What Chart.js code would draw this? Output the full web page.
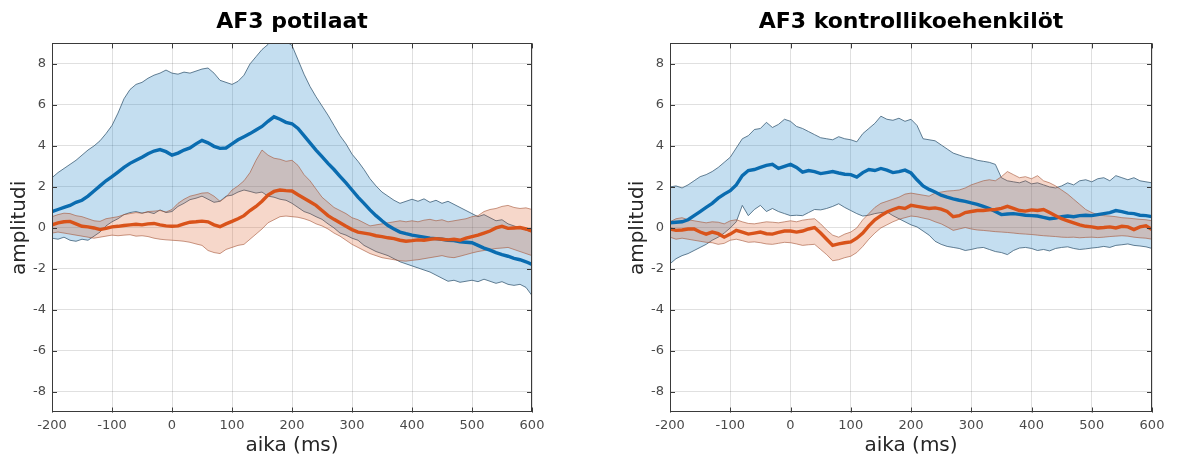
<!DOCTYPE html>
<html>
<head>
<meta charset="utf-8">
<script src="https://cdn.jsdelivr.net/npm/chart.js@4.4.1/dist/chart.umd.min.js"></script>
<style>
  html, body { margin: 0; padding: 0; background: #fff; }
  #wrap { position: relative; width: 1182px; height: 459px; overflow: hidden; }
  canvas { position: absolute; top: 0; }
  #left { left: 0; }
  #right { left: 618px; }
</style>
</head>
<body>
<div id="wrap">
  <canvas id="left" width="560" height="459"></canvas>
  <canvas id="right" width="562" height="459"></canvas>
</div>
<script>
// sample times (ms)
const times = [
  -200, -190, -180, -170, -160, -150, -140, -130, -120, -110,
  -100, -90, -80, -70, -60, -50, -40, -30, -20, -10,
  0, 10, 20, 30, 40, 50, 60, 70, 80, 90,
  100, 110, 120, 130, 140, 150, 160, 170, 180, 190,
  200, 210, 220, 230, 240, 250, 260, 270, 280, 290,
  300, 310, 320, 330, 340, 350, 360, 370, 380, 390,
  400, 410, 420, 430, 440, 450, 460, 470, 480, 490,
  500, 510, 520, 530, 540, 550, 560, 570, 580, 590,
  600
];
const xTicks = [-200, -100, 0, 100, 200, 300, 400, 500, 600];
const yTicks = [-8, -6, -4, -2, 0, 2, 4, 6, 8];

// AF3 potilaat
const patBlueMean = [
  0.8, 0.9, 1.0, 1.1, 1.25, 1.35, 1.55, 1.8, 2.05, 2.3,
  2.5, 2.72, 2.95, 3.15, 3.3, 3.45, 3.62, 3.75, 3.82, 3.72,
  3.55, 3.65, 3.8, 3.9, 4.1, 4.27, 4.15, 3.98, 3.88, 3.9,
  4.1, 4.3, 4.45, 4.6, 4.78, 4.95, 5.2, 5.42, 5.3, 5.15,
  5.08, 4.85, 4.5, 4.15, 3.8, 3.48, 3.15, 2.85, 2.52, 2.2,
  1.85, 1.5, 1.2, 0.88, 0.6, 0.35, 0.12, -0.05, -0.2, -0.28,
  -0.35, -0.4, -0.45, -0.5, -0.52, -0.55, -0.6, -0.62, -0.68, -0.7,
  -0.72, -0.85, -0.98, -1.08, -1.2, -1.3, -1.38, -1.48, -1.55, -1.65,
  -1.78
];
const patBlueUpper = [
  2.45, 2.7, 2.9, 3.1, 3.3, 3.55, 3.8, 4.0, 4.25, 4.6,
  5.0, 5.6, 6.3, 6.75, 7.0, 7.1, 7.3, 7.45, 7.55, 7.7,
  7.55, 7.5, 7.6, 7.55, 7.65, 7.75, 7.8, 7.55, 7.2, 7.1,
  7.0, 7.15, 7.45, 8.0, 8.35, 8.7, 8.95, 9.3, 9.4, 9.1,
  8.9, 8.2, 7.5, 6.9, 6.4, 5.95, 5.5, 5.0, 4.5, 4.1,
  3.6, 3.25, 2.85, 2.4, 2.05, 1.75, 1.55, 1.35, 1.2, 1.3,
  1.4, 1.3, 1.42, 1.25, 1.35, 1.2, 1.3, 1.15, 1.0, 0.85,
  0.7, 0.55, 0.65, 0.5, 0.35, 0.4, 0.2, 0.1, 0.0, -0.1,
  -0.2
];
const patBlueLower = [
  -0.5, -0.55, -0.45, -0.6, -0.65, -0.55, -0.6, -0.4, -0.2, 0.1,
  0.3, 0.45, 0.65, 0.75, 0.8, 0.72, 0.78, 0.7, 0.88, 0.75,
  0.8, 1.05, 1.2, 1.38, 1.45, 1.55, 1.4, 1.25, 1.3, 1.55,
  1.6, 1.75, 1.85, 1.78, 1.7, 1.75, 1.55, 1.5, 1.4, 1.35,
  1.2, 1.0, 0.8, 0.7, 0.55, 0.42, 0.2, 0.0, -0.25, -0.35,
  -0.5, -0.6, -0.85, -1.0, -1.15, -1.25, -1.35, -1.5, -1.65, -1.75,
  -1.85, -1.95, -2.05, -2.15, -2.3, -2.45, -2.6, -2.55, -2.65, -2.6,
  -2.55, -2.62, -2.5, -2.6, -2.7, -2.62, -2.75, -2.8, -2.75, -2.9,
  -3.3
];
const patOrangeMean = [
  0.15, 0.25, 0.3, 0.32, 0.2, 0.08, 0.05, 0.0, -0.08, -0.02,
  0.05, 0.08, 0.12, 0.15, 0.18, 0.15, 0.2, 0.22, 0.15, 0.1,
  0.08, 0.1, 0.2, 0.28, 0.3, 0.33, 0.3, 0.15, 0.06, 0.2,
  0.32, 0.45, 0.6, 0.85, 1.05, 1.3, 1.6, 1.78, 1.85, 1.82,
  1.8, 1.62, 1.45, 1.28, 1.1, 0.85, 0.6, 0.42, 0.25, 0.08,
  -0.08, -0.2, -0.25, -0.3, -0.38, -0.42, -0.48, -0.52, -0.6, -0.65,
  -0.62, -0.58, -0.6, -0.55, -0.52, -0.55, -0.58, -0.55, -0.6, -0.5,
  -0.42, -0.35, -0.25, -0.15, 0.0, 0.08, -0.02, 0.0, 0.02, -0.05,
  -0.15
];
const patOrangeUpper = [
  0.55, 0.65, 0.72, 0.7, 0.6, 0.55, 0.45, 0.35, 0.32, 0.45,
  0.5, 0.55, 0.65, 0.7, 0.75, 0.72, 0.8, 0.82, 0.85, 0.78,
  0.9, 1.2, 1.4, 1.55, 1.62, 1.7, 1.72, 1.55, 1.3, 1.5,
  1.85, 2.05, 2.3, 2.7, 3.3, 3.8, 3.55, 3.4, 3.35, 3.25,
  3.3, 3.05, 2.6, 2.3, 1.9, 1.5, 1.25, 1.0, 0.85, 0.7,
  0.5, 0.4, 0.25, 0.1, 0.15, 0.2, 0.25, 0.3, 0.35, 0.3,
  0.35, 0.3, 0.38, 0.42, 0.35, 0.4, 0.3, 0.35, 0.4, 0.45,
  0.55, 0.6, 0.8, 0.9, 0.95, 1.05, 1.1, 1.0, 0.95, 0.98,
  0.9
];
const patOrangeLower = [
  -0.25, -0.2, -0.25, -0.3, -0.35, -0.4, -0.45, -0.5, -0.45, -0.4,
  -0.35, -0.38, -0.35, -0.33, -0.4, -0.38, -0.42, -0.5, -0.55, -0.58,
  -0.6, -0.62, -0.65, -0.7, -0.78, -0.85, -1.1, -1.2, -1.25, -1.05,
  -0.95, -0.85, -0.8, -0.55, -0.3, -0.05, 0.25, 0.4, 0.55, 0.58,
  0.55, 0.52, 0.45, 0.35, 0.2, 0.1, -0.05, -0.25, -0.4, -0.6,
  -0.8, -0.95, -1.1, -1.25, -1.35, -1.45, -1.5, -1.55, -1.6, -1.62,
  -1.58, -1.55, -1.5, -1.45, -1.4, -1.35, -1.42, -1.45, -1.38, -1.3,
  -1.22, -1.15, -1.1, -1.05, -1.0, -0.98, -0.95, -1.05, -1.15, -1.25,
  -1.35
];

// AF3 kontrollikoehenkilöt
const ctlBlueMean = [
  0.25, 0.28, 0.3, 0.4, 0.6, 0.8, 1.0, 1.2, 1.45, 1.65,
  1.82, 2.1, 2.55, 2.8, 2.85, 2.95, 3.05, 3.1, 2.9, 3.0,
  3.1, 2.95, 2.72, 2.8, 2.75, 2.65, 2.7, 2.75, 2.68, 2.62,
  2.6, 2.48, 2.7, 2.85, 2.8, 2.9, 2.82, 2.7, 2.75, 2.82,
  2.68, 2.35, 2.05, 1.88, 1.75, 1.6, 1.5, 1.42, 1.35, 1.3,
  1.22, 1.15, 1.05, 0.95, 0.8, 0.65, 0.68, 0.7, 0.66, 0.62,
  0.6, 0.58, 0.52, 0.45, 0.48, 0.55, 0.58, 0.55, 0.6, 0.62,
  0.6, 0.65, 0.7, 0.75, 0.85, 0.8, 0.72, 0.7, 0.62, 0.6,
  0.55
];
const ctlBlueUpper = [
  2.0, 2.05, 1.95, 2.1, 2.3, 2.5, 2.6, 2.75, 2.95, 3.2,
  3.45, 3.9, 4.35, 4.5, 4.8, 4.85, 5.15, 4.9, 5.05, 5.3,
  5.2, 4.95, 4.85, 4.7, 4.55, 4.4, 4.35, 4.3, 4.45, 4.35,
  4.3, 4.2, 4.6, 4.85, 5.1, 5.45, 5.3, 5.25, 5.35, 5.2,
  5.3, 5.0, 4.35, 4.3, 4.25, 4.05, 3.85, 3.65, 3.55, 3.45,
  3.4, 3.3, 3.25, 3.2, 3.1, 2.45, 2.3, 2.25, 2.2, 2.3,
  2.15, 2.2, 2.1, 2.0, 1.95, 2.05, 2.2, 2.1, 2.3, 2.35,
  2.25, 2.4, 2.45, 2.3, 2.55, 2.45, 2.35, 2.45, 2.3, 2.25,
  2.2
];
const ctlBlueLower = [
  -1.75, -1.5, -1.35, -1.25, -1.1, -0.95, -0.8, -0.6, -0.45, -0.25,
  0.0, 0.3, 1.1, 0.6, 0.9, 1.1, 0.8, 0.95, 0.8, 0.7,
  0.6, 0.62, 0.6, 0.75, 0.9, 0.88, 0.95, 1.05, 1.18, 1.0,
  0.85, 0.7, 0.58, 0.62, 0.7, 0.75, 0.78, 0.6, 0.45, 0.3,
  0.15, 0.05, -0.15, -0.35, -0.65, -0.8, -0.9, -0.95, -1.0, -1.1,
  -1.05, -0.98, -0.95, -1.05, -1.15, -1.2, -1.3, -1.1, -0.98, -0.95,
  -1.0, -1.1, -1.05, -1.12, -1.0, -0.95, -0.92, -1.0, -1.05, -1.02,
  -0.98, -0.95, -0.9, -0.95, -0.85, -0.82, -0.78, -0.85, -0.88, -0.92,
  -1.0
];
const ctlOrangeMean = [
  -0.05, -0.12, -0.1, -0.05, -0.05, -0.2, -0.3, -0.2, -0.28, -0.45,
  -0.3, -0.12, -0.2, -0.3, -0.25, -0.2, -0.28, -0.3, -0.22, -0.15,
  -0.15, -0.2, -0.15, -0.05, 0.02, -0.25, -0.55, -0.85, -0.78, -0.72,
  -0.68, -0.5, -0.25, 0.1, 0.4, 0.6, 0.78, 0.9, 1.0, 0.95,
  1.1, 1.05, 1.0, 0.95, 0.98, 0.92, 0.8, 0.55, 0.6, 0.75,
  0.8, 0.85, 0.85, 0.88, 0.9, 0.95, 1.05, 0.95, 0.85, 0.82,
  0.88, 0.85, 0.9, 0.75, 0.6, 0.45, 0.35, 0.25, 0.15, 0.08,
  0.05, 0.0, 0.02, 0.05, 0.0, 0.08, 0.05, -0.08, 0.05, 0.1,
  -0.08
];
const ctlOrangeUpper = [
  0.3, 0.45, 0.5, 0.4, 0.35, 0.3, 0.25, 0.3, 0.28, 0.2,
  0.35, 0.4, 0.3, 0.22, 0.2, 0.25, 0.3, 0.28, 0.25, 0.3,
  0.35, 0.3, 0.38, 0.42, 0.45, 0.2, -0.1, -0.35, -0.45, -0.3,
  -0.2, 0.0, 0.4, 0.7, 1.0, 1.2, 1.3, 1.4, 1.5, 1.65,
  1.7, 1.65, 1.6, 1.55, 1.7, 1.75, 1.8, 1.82, 1.85, 1.95,
  2.1, 2.2, 2.3, 2.35, 2.3, 2.5, 2.75, 2.6, 2.45, 2.5,
  2.4, 2.55, 2.3, 2.2, 2.05, 1.85, 1.65, 1.4, 1.15, 0.9,
  0.75, 0.65, 0.6, 0.58, 0.55, 0.5, 0.48, 0.45, 0.42, 0.4,
  0.35
];
const ctlOrangeLower = [
  -0.45, -0.55, -0.5, -0.55, -0.6, -0.65, -0.7, -0.72, -0.8, -0.75,
  -0.6, -0.55, -0.62, -0.7, -0.68, -0.72, -0.78, -0.8, -0.75, -0.7,
  -0.72, -0.78, -0.85, -0.82, -0.8, -1.05, -1.3, -1.6, -1.55, -1.45,
  -1.38, -1.2, -0.9, -0.55, -0.25, 0.0, 0.15, 0.3, 0.42, 0.5,
  0.58, 0.55, 0.48, 0.42, 0.3, 0.2, 0.05, -0.12, -0.05, 0.02,
  -0.05, -0.1, -0.12, -0.15, -0.18, -0.2, -0.22, -0.25, -0.28, -0.3,
  -0.32, -0.35, -0.38, -0.4, -0.42, -0.45, -0.46, -0.45, -0.48, -0.46,
  -0.45, -0.47, -0.45, -0.42, -0.4, -0.38, -0.4, -0.45, -0.48, -0.5,
  -0.55
];

const BLUE = '#0a6cb0';
const ORANGE = '#d9531a';
const BLUE_FILL = 'rgba(0, 114, 189, 0.23)';
const ORANGE_FILL = 'rgba(217, 83, 25, 0.23)';
const BLUE_EDGE = 'rgba(60, 95, 120, 0.8)';
const ORANGE_EDGE = 'rgba(165, 85, 55, 0.6)';
const FONT = "'DejaVu Sans', sans-serif";

const toXY = arr => arr.map((v, i) => ({ x: times[i], y: v }));

// box around the axes with inward ticks, like matlab
const matlabBox = {
  id: 'matlabBox',
  afterDraw(chart) {
    const { ctx, chartArea: a, scales: { x, y } } = chart;
    ctx.save();
    ctx.strokeStyle = '#3a3a3a';
    ctx.lineWidth = 1;
    ctx.strokeRect(Math.round(a.left) + 0.5, Math.round(a.top) + 0.5,
      Math.round(a.width) - 1, Math.round(a.height) - 1);
    ctx.beginPath();
    xTicks.forEach(v => {
      const px = Math.round(x.getPixelForValue(v)) + 0.5;
      ctx.moveTo(px, a.bottom); ctx.lineTo(px, a.bottom - 5);
      ctx.moveTo(px, a.top); ctx.lineTo(px, a.top + 5);
    });
    yTicks.forEach(v => {
      const py = Math.round(y.getPixelForValue(v)) + 0.5;
      ctx.moveTo(a.left, py); ctx.lineTo(a.left + 5, py);
      ctx.moveTo(a.right, py); ctx.lineTo(a.right - 5, py);
    });
    ctx.stroke();
    ctx.restore();
  }
};

function makeChart(id, title, s, padRight) {
  const line = (data, color, width, extra) => Object.assign({
    data: toXY(data),
    borderColor: color,
    borderWidth: width,
    pointRadius: 0,
    tension: 0,
    fill: false
  }, extra);

  new Chart(document.getElementById(id), {
    type: 'line',
    data: {
      datasets: [
        line(s.blueUpper, BLUE_EDGE, 1, { fill: '+1', backgroundColor: BLUE_FILL, order: 5 }),
        line(s.blueLower, BLUE_EDGE, 1, { order: 4 }),
        line(s.orangeUpper, ORANGE_EDGE, 1, { fill: '+1', backgroundColor: ORANGE_FILL, order: 3 }),
        line(s.orangeLower, ORANGE_EDGE, 1, { order: 2 }),
        line(s.blueMean, BLUE, 3.4, { order: 1 }),
        line(s.orangeMean, ORANGE, 3.4, { order: 0 })
      ]
    },
    options: {
      responsive: false,
      animation: false,
      layout: { padding: { left: 0, right: padRight, top: 0, bottom: 0 } },
      plugins: {
        legend: { display: false },
        tooltip: { enabled: false },
        title: {
          display: true,
          text: title,
          fullSize: false,
          color: '#000',
          font: { family: FONT, size: 22, weight: 'bold' },
          padding: { top: 9, bottom: 8 }
        }
      },
      scales: {
        x: {
          type: 'linear',
          min: -200,
          max: 600,
          afterBuildTicks: sc => { sc.ticks = xTicks.map(v => ({ value: v })); },
          afterFit: sc => { sc.height = 46.5; },
          grid: { color: 'rgba(0,0,0,0.12)', drawTicks: false },
          border: { display: false },
          ticks: { color: '#4a4a4a', font: { family: FONT, size: 13 }, padding: 5, maxRotation: 0 },
          title: {
            display: true,
            text: 'aika (ms)',
            color: '#262626',
            font: { family: FONT, size: 20 },
            padding: { top: 0, bottom: 1 }
          }
        },
        y: {
          min: -9,
          max: 9,
          afterBuildTicks: sc => { sc.ticks = yTicks.map(v => ({ value: v })); },
          afterFit: sc => { sc.width = 52; },
          grid: { color: 'rgba(0,0,0,0.12)', drawTicks: false },
          border: { display: false },
          ticks: { color: '#4a4a4a', font: { family: FONT, size: 13 }, padding: 6 },
          title: {
            display: true,
            text: 'amplitudi',
            color: '#262626',
            font: { family: FONT, size: 20 },
            padding: { top: 8, bottom: 0 }
          }
        }
      }
    },
    plugins: [matlabBox]
  });
}

makeChart('left', 'AF3 potilaat', {
  blueMean: patBlueMean, blueUpper: patBlueUpper, blueLower: patBlueLower,
  orangeMean: patOrangeMean, orangeUpper: patOrangeUpper, orangeLower: patOrangeLower
}, 28);

makeChart('right', 'AF3 kontrollikoehenkilöt', {
  blueMean: ctlBlueMean, blueUpper: ctlBlueUpper, blueLower: ctlBlueLower,
  orangeMean: ctlOrangeMean, orangeUpper: ctlOrangeUpper, orangeLower: ctlOrangeLower
}, 28);
</script>
</body>
</html>
